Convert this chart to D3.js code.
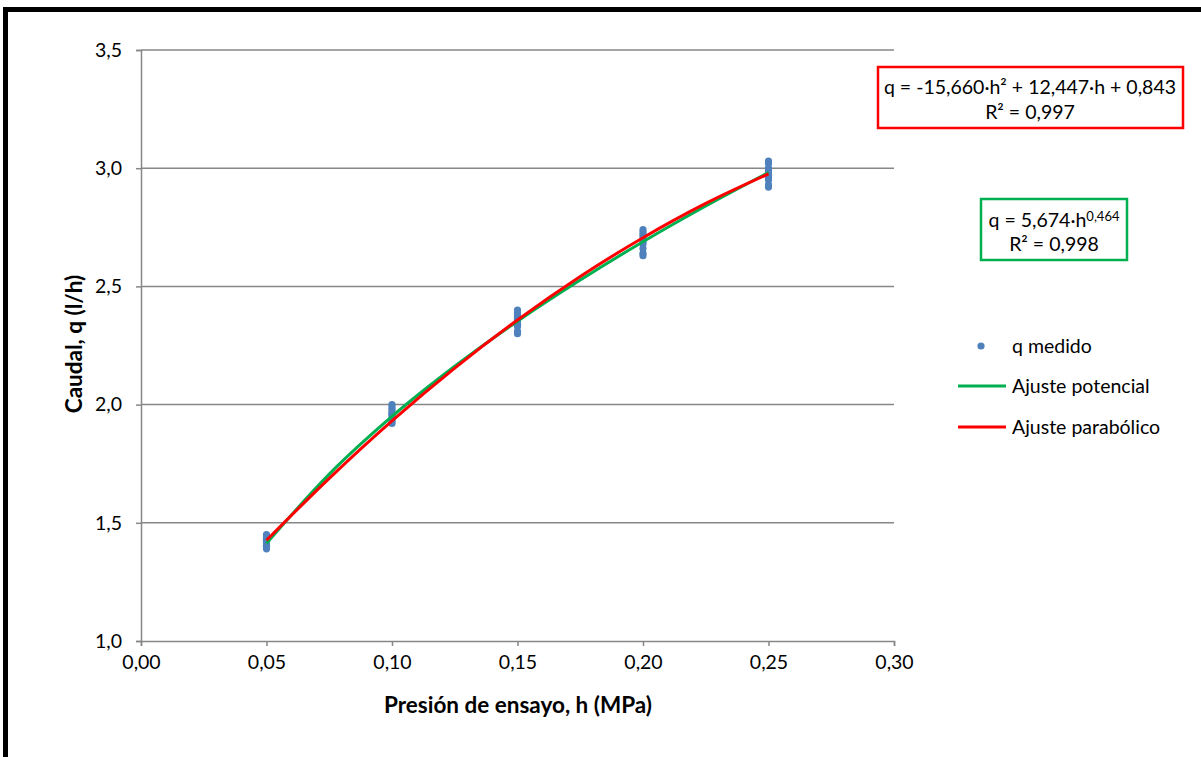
<!DOCTYPE html>
<html>
<head>
<meta charset="utf-8">
<script src="https://cdn.jsdelivr.net/npm/d3@7/dist/d3.min.js"></script>
<style>
  html, body { margin: 0; padding: 0; background: #fff; overflow: hidden; }
  svg { display: block; font-family: Lato, "Open Sans", sans-serif; }
</style>
</head>
<body>
<svg id="chart" width="1201" height="757"></svg>
<script>
// ---- data ----
const pressures = [0.05, 0.10, 0.15, 0.20, 0.25];
const measured005 = [1.39, 1.40, 1.40, 1.41, 1.42, 1.42, 1.43, 1.43, 1.44, 1.45];
const measured010 = [1.92, 1.93, 1.94, 1.95, 1.96, 1.96, 1.97, 1.98, 1.99, 2.00];
const measured015 = [2.30, 2.31, 2.33, 2.34, 2.35, 2.36, 2.37, 2.38, 2.39, 2.40];
const measured020 = [2.63, 2.64, 2.66, 2.68, 2.69, 2.70, 2.71, 2.72, 2.73, 2.74];
const measured025 = [2.92, 2.93, 2.95, 2.96, 2.97, 2.98, 2.99, 3.00, 3.02, 3.03];
const fitH = [0.05, 0.075, 0.10, 0.125, 0.15, 0.175, 0.20, 0.225, 0.25];
const fitPotencial = [1.413, 1.706, 1.950, 2.162, 2.353, 2.527, 2.689, 2.840, 2.982];
const fitParabolico = [1.426, 1.688, 1.931, 2.154, 2.358, 2.542, 2.706, 2.851, 2.976];
const xTicks = [0, 0.05, 0.10, 0.15, 0.20, 0.25, 0.30];
const yTicks = [1.0, 1.5, 2.0, 2.5, 3.0, 3.5];
const legendLabels = ["q medido", "Ajuste potencial", "Ajuste parabólico"];
const eqParabolico = ["q = -15,660·h² + 12,447·h + 0,843", "R² = 0,997"];
const eqPotencial = ["q = 5,674·h", "0,464", "R² = 0,998"];

const measuredSets = [measured005, measured010, measured015, measured020, measured025];
const points = [];
pressures.forEach((h, i) => measuredSets[i].forEach(q => points.push({h, q})));

const FS = 19.5;
const svg = d3.select("#chart");
const L = 141, R = 894, T = 50, B = 641;
const x = d3.scaleLinear().domain([0, 0.30]).range([L, R]);
const y = d3.scaleLinear().domain([1.0, 3.5]).range([B, T]);
const fmt = d3.format(".2f"), fmt1 = d3.format(".1f");
const comma = s => s.replace(".", ",");
const gridCol = "#878787";

// outer black frame: only top and left edges are visible (cropped)
svg.append("line").attr("x1", 3).attr("x2", 1201).attr("y1", 9.5).attr("y2", 9.5)
  .attr("stroke", "#000").attr("stroke-width", 5);
svg.append("line").attr("x1", 5.5).attr("x2", 5.5).attr("y1", 7).attr("y2", 757)
  .attr("stroke", "#000").attr("stroke-width", 5);

// gridlines
svg.append("g").selectAll("line").data(yTicks.slice(1)).join("line")
  .attr("x1", L).attr("x2", R).attr("y1", d => y(d)).attr("y2", d => y(d))
  .attr("stroke", gridCol).attr("stroke-width", 1.5);

// axes
const xAxis = svg.append("g").attr("transform", `translate(0,${B})`)
  .call(d3.axisBottom(x).tickValues(xTicks).tickFormat(d => comma(fmt(d))).tickSize(5).tickPadding(9));
const yAxis = svg.append("g").attr("transform", `translate(${L},0)`)
  .call(d3.axisLeft(y).tickValues(yTicks).tickFormat(d => comma(fmt1(d))).tickSize(5).tickPadding(14));
[xAxis, yAxis].forEach(g => {
  g.select(".domain").attr("stroke", gridCol).attr("stroke-width", 1.5);
  g.selectAll(".tick line").attr("stroke", gridCol).attr("stroke-width", 1.5);
  g.selectAll("text").attr("font-size", FS).attr("fill", "#000")
    .attr("font-family", "Lato, sans-serif");
});

// axis titles
svg.append("text").attr("x", 518).attr("y", 713).attr("text-anchor", "middle")
  .attr("font-size", 22.5).attr("font-weight", "bold").text("Presión de ensayo, h (MPa)");
svg.append("text").attr("transform", `translate(82,344) rotate(-90)`)
  .attr("text-anchor", "middle").attr("font-size", 22.5).attr("font-weight", "bold")
  .text("Caudal, q (l/h)");

// points
svg.append("g").selectAll("circle").data(points).join("circle")
  .attr("cx", d => x(d.h)).attr("cy", d => y(d.q)).attr("r", 3.6).attr("fill", "#4F81BD");

// fit lines
const line = d3.line().x(d => x(d[0])).y(d => y(d[1])).curve(d3.curveMonotoneX);
svg.append("path").datum(fitH.map((h, i) => [h, fitPotencial[i]])).attr("d", line)
  .attr("fill", "none").attr("stroke", "#00B050").attr("stroke-width", 3);
svg.append("path").datum(fitH.map((h, i) => [h, fitParabolico[i]])).attr("d", line)
  .attr("fill", "none").attr("stroke", "#FF0000").attr("stroke-width", 3);

// legend
const lg = svg.append("g").attr("font-size", FS);
lg.append("circle").attr("cx", 981).attr("cy", 346).attr("r", 3.6).attr("fill", "#4F81BD");
lg.append("line").attr("x1", 958).attr("x2", 1006).attr("y1", 386).attr("y2", 386)
  .attr("stroke", "#00B050").attr("stroke-width", 3);
lg.append("line").attr("x1", 958).attr("x2", 1006).attr("y1", 427).attr("y2", 427)
  .attr("stroke", "#FF0000").attr("stroke-width", 3);
[346, 386, 427].forEach((yy, i) => {
  lg.append("text").attr("x", 1012).attr("y", yy).attr("dy", "0.35em").text(legendLabels[i]);
});

// equation boxes
svg.append("rect").attr("x", 878).attr("y", 67).attr("width", 305).attr("height", 61)
  .attr("fill", "#fff").attr("stroke", "#FF0000").attr("stroke-width", 2.5);
svg.append("text").attr("x", 1030).attr("y", 87).attr("dy", "0.35em").attr("text-anchor", "middle")
  .attr("font-size", FS).text(eqParabolico[0]);
svg.append("text").attr("x", 1030).attr("y", 112).attr("dy", "0.35em").attr("text-anchor", "middle")
  .attr("font-size", FS).text(eqParabolico[1]);

svg.append("rect").attr("x", 981).attr("y", 199).attr("width", 146).attr("height", 61)
  .attr("fill", "#fff").attr("stroke", "#00B050").attr("stroke-width", 2.5);
const t1 = svg.append("text").attr("x", 1054).attr("y", 220).attr("dy", "0.35em")
  .attr("text-anchor", "middle").attr("font-size", FS);
t1.append("tspan").text(eqPotencial[0]);
t1.append("tspan").attr("dy", "-0.45em").attr("font-size", 13).text(eqPotencial[1]);
svg.append("text").attr("x", 1054).attr("y", 244).attr("dy", "0.35em").attr("text-anchor", "middle")
  .attr("font-size", FS).text(eqPotencial[2]);
</script>
</body>
</html>
